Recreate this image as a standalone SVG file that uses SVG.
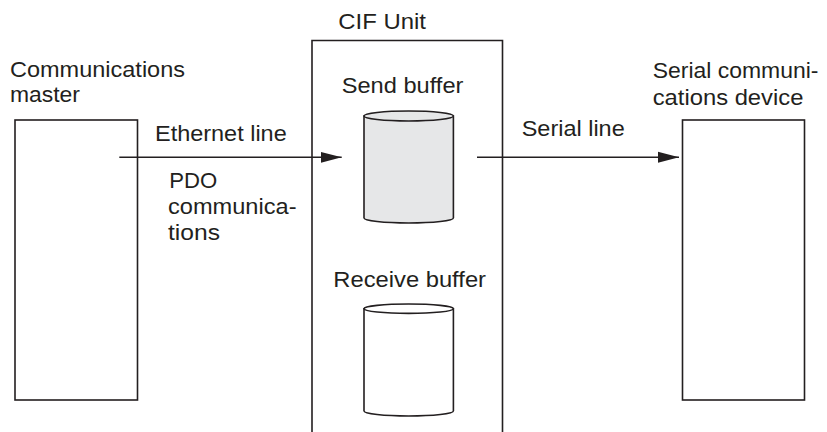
<svg xmlns="http://www.w3.org/2000/svg" width="827" height="432" viewBox="0 0 827 432">
<defs>
<style>
.t{font-family:"Liberation Sans",Arial,sans-serif;font-size:22px;fill:#231f20}
.s{fill:none;stroke:#231f20;stroke-width:1.6}
.cyl{stroke:#231f20;stroke-width:1.6}
</style>
<marker id="ah" markerWidth="22" markerHeight="12" refX="21" refY="6" orient="auto" markerUnits="userSpaceOnUse">
<path d="M0,0.5 L21,6 L0,11.5 Z" fill="#231f20"/>
</marker>
</defs>
<rect width="827" height="432" fill="#fff"/>
<g id="master">
<rect class="s" x="15" y="120" width="122.5" height="280" fill="#fff"/>
<text class="t" x="10" y="77" textLength="175" lengthAdjust="spacingAndGlyphs">Communications</text>
<text class="t" x="10" y="102" textLength="70" lengthAdjust="spacingAndGlyphs">master</text>
</g>
<g id="cif">
<path class="s" d="M312,432 V40.5 H502.5 V432"/>
<text class="t" x="338.3" y="29.3" textLength="87.7" lengthAdjust="spacingAndGlyphs">CIF Unit</text>
</g>
<g id="sendbuf">
<path class="cyl" fill="#e6e7e8" d="M364,116 V218 A44.7,5 0 0 0 453.4,218 V116 Z"/>
<ellipse class="cyl" fill="#e6e7e8" cx="408.7" cy="116" rx="44.7" ry="5"/>
<text class="t" x="341.7" y="93.3" textLength="121.7" lengthAdjust="spacingAndGlyphs">Send buffer</text>
</g>
<g id="recvbuf">
<path class="cyl" fill="#fff" d="M364,308.7 V411 A44.7,5 0 0 0 453.4,411 V308.7 Z"/>
<ellipse class="cyl" fill="#fff" cx="408.7" cy="308.7" rx="44.7" ry="4.7"/>
<text class="t" x="333.3" y="286.7" textLength="152.7" lengthAdjust="spacingAndGlyphs">Receive buffer</text>
</g>
<g id="device">
<rect class="s" x="682.5" y="120" width="122" height="280" fill="#fff"/>
<text class="t" x="652.7" y="78" textLength="165.7" lengthAdjust="spacingAndGlyphs">Serial communi-</text>
<text class="t" x="652.7" y="105" textLength="150.7" lengthAdjust="spacingAndGlyphs">cations device</text>
</g>
<g id="connectors">
<line class="s" x1="119.3" y1="157.3" x2="341.7" y2="157.3" marker-end="url(#ah)"/>
<line class="s" x1="477" y1="157.3" x2="679" y2="157.3" marker-end="url(#ah)"/>
<text class="t" x="155" y="141" textLength="131.7" lengthAdjust="spacingAndGlyphs">Ethernet line</text>
<text class="t" x="169.3" y="188" textLength="48" lengthAdjust="spacingAndGlyphs">PDO</text>
<text class="t" x="168" y="214" textLength="128.5" lengthAdjust="spacingAndGlyphs">communica-</text>
<text class="t" x="168" y="240" textLength="52" lengthAdjust="spacingAndGlyphs">tions</text>
<text class="t" x="521.7" y="136" textLength="103" lengthAdjust="spacingAndGlyphs">Serial line</text>
</g>
</svg>
